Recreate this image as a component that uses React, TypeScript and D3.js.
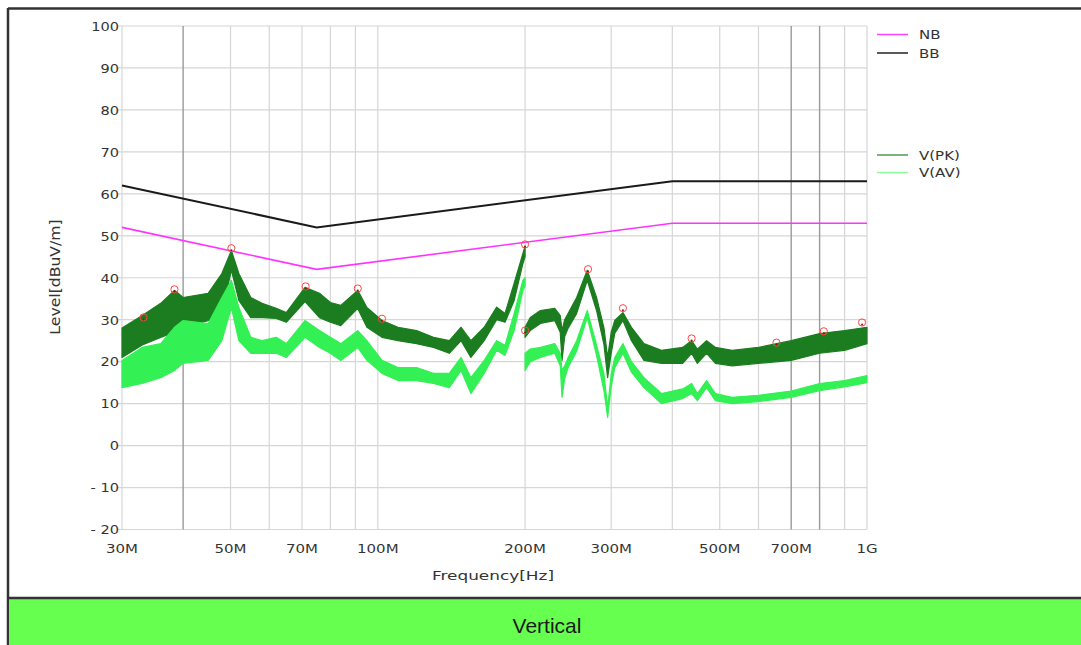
import React from "react";
import * as d3 from "d3";

// ---------- axis data ----------
const xTickValues = [30, 50, 70, 100, 200, 300, 500, 700, 1000];
const xTickLabels = ["30M", "50M", "70M", "100M", "200M", "300M", "500M", "700M", "1G"];
const gridFreqs = [40, 50, 60, 70, 80, 90, 100, 200, 300, 400, 500, 600, 700, 800, 900];
const strongGridFreqs = [40, 700, 800];
const yTickValues = [100, 90, 80, 70, 60, 50, 40, 30, 20, 10, 0, -10, -20];
const yTickLabels = ["100", "90", "80", "70", "60", "50", "40", "30", "20", "10", "0", "- 10", "- 20"];

// ---------- limit lines (MHz, dBuV/m) ----------
const limitFreq = [30, 75, 400, 1000];
const nbLimit = [52, 42, 53, 53];
const bbLimit = [62, 52, 63, 63];

// ---------- measured traces, segment 1 (30M - 200M) ----------
const seg1Freq = [30, 33, 36, 38.4, 40, 45, 48, 50.2, 52, 55, 58, 62, 65, 71, 76, 80, 84, 91, 95, 102, 110, 120, 130, 140, 148, 155, 165, 175, 182, 190, 198, 200];
const pkHi1 = [28, 31, 33.9, 37, 35.3, 36.3, 41, 46.5, 41, 35.3, 33.9, 32.7, 31.7, 37.7, 36.3, 34.1, 33.4, 37, 32.9, 29.8, 28.2, 27.4, 25.8, 25, 28.2, 25, 28.2, 33, 31.5, 38.7, 45.8, 47.5];
const pkLo1 = [21, 24, 25.8, 27, 28.2, 29.8, 31.5, 41.8, 34.6, 30.5, 30.5, 30.3, 29.4, 34.3, 30.5, 29.4, 28.6, 32.7, 28.2, 25.8, 25, 24.3, 23.4, 22, 25, 21, 25, 30, 29.4, 34.6, 43.4, 45];
const avHi1 = [20.3, 23.4, 24.3, 28.2, 29.8, 29.1, 35.3, 39.4, 32.9, 25.8, 25, 25.8, 24.3, 29.8, 27.4, 25.8, 24.3, 27.4, 25, 20.3, 18.6, 18.6, 17.2, 17.2, 21, 16.2, 20.3, 25, 23.9, 31.5, 39.4, 40];
const avLo1 = [13.8, 14.8, 16.2, 17.9, 19.6, 20.3, 25, 32.9, 25, 22, 22, 22, 21, 25.8, 23.4, 22, 20.3, 23.4, 20.3, 17.2, 15.5, 15.5, 14.8, 13.8, 17.9, 12.4, 17.2, 22.7, 21.5, 27.4, 37, 38];

// ---------- measured traces, segment 2 (200M - 1G) ----------
const seg2Freq = [200, 205, 215, 230, 236, 238, 241, 245, 255, 268, 280, 290, 295, 300, 305, 317, 330, 350, 380, 420, 438, 450, 470, 490, 530, 600, 700, 800, 900, 1000];
const pkHi2 = [28.2, 30.5, 32.2, 32.7, 31, 27.4, 30, 31.5, 35.3, 41.8, 35.3, 28, 21, 27, 29.8, 31.7, 28.2, 24.3, 22.7, 23.4, 25, 23, 25, 23.4, 22.7, 23.4, 25, 26.7, 27.4, 28.2];
const pkLo2 = [25.8, 27.4, 29.1, 29.8, 27, 20.3, 26, 28, 31.5, 39.4, 32.2, 24, 16.2, 22, 26.7, 29.8, 25, 20.3, 19.6, 19.6, 22, 19.6, 22, 19.6, 19, 19.6, 20.3, 22, 22.7, 24.3];
const avHi2 = [22, 23, 23.4, 24.3, 22, 18, 19, 21, 25, 32.2, 24, 17, 9, 17, 21, 24.3, 20, 16.2, 12.4, 13.5, 14.8, 12.4, 15.5, 12.4, 11.5, 12, 13, 14.8, 15.5, 16.7];
const avLo2 = [17.9, 20, 21, 22, 19, 11.5, 16, 18.6, 22.5, 30.5, 21.5, 13, 6.7, 14, 18.5, 22, 17.5, 13.8, 10, 11.2, 12.4, 10.7, 13.8, 10.7, 10, 10.5, 11.5, 13.1, 14, 15];

// ---------- peak markers ----------
const peakFreq = [33.2, 38.4, 50.2, 71.2, 91, 102, 200, 200, 269, 317, 438, 653, 816, 977];
const peakLevel = [30.3, 37, 46.8, 37.7, 37.2, 30, 47.7, 27.2, 41.8, 32.5, 25.3, 24.3, 27, 29.1];

// ---------- legend ----------
const legendLabels = ["NB", "BB", "V(PK)", "V(AV)"];
const legendColors = ["#ff40ff", "#222222", "#4f9a4f", "#8cff9c"];

const PK_COLOR = "#1b7d1f";
const AV_COLOR = "#33f055";
const FONT = "'DejaVu Sans', Verdana, sans-serif";

function Txt(props: {
  x: number; y: number; anchor?: string; size?: number; sx?: number; fill?: string; children: React.ReactNode; rotate?: number;
}) {
  const { x, y, anchor = "start", size = 13, sx = 1.15, fill = "#333", rotate = 0 } = props;
  return (
    <text
      transform={`translate(${x},${y}) rotate(${rotate}) scale(${sx},1)`}
      textAnchor={anchor as any}
      fontSize={size}
      fontFamily={FONT}
      fill={fill}
    >
      {props.children}
    </text>
  );
}

export default function App() {
  const W = 1081;
  const H = 645;
  const x = d3.scaleLog().domain([30, 1000]).range([122, 867]);
  const y = d3.scaleLinear().domain([-20, 100]).range([529.5, 26]);

  const band = (freq: number[], hi: number[], lo: number[]) =>
    d3
      .area<number>()
      .x((_, i) => x(freq[i]))
      .y0((_, i) => y(lo[i]))
      .y1((_, i) => y(hi[i]))(freq.map((_, i) => i)) || "";

  const limitPath = (lv: number[]) =>
    d3
      .line<number>()
      .x((_, i) => x(limitFreq[i]))
      .y((_, i) => y(lv[i]))(limitFreq.map((_, i) => i)) || "";

  const legendY = [34.5, 53, 155, 172.5];

  return (
    <svg
      width={W}
      height={H}
      style={{ position: "absolute", left: 0, top: 0, background: "#fff" }}
    >
      {/* outer frame */}
      <rect x={0} y={0} width={W} height={H} fill="#ffffff" />
      <line x1={8} y1={8.5} x2={W} y2={8.5} stroke="#333" strokeWidth={2.5} />
      <line x1={8} y1={8} x2={8} y2={H} stroke="#333" strokeWidth={2.5} />
      <rect x={9} y={598} width={W - 9} height={H - 598} fill="#66ff50" />
      <line x1={8} y1={598} x2={W} y2={598} stroke="#333" strokeWidth={2.5} />
      <text x={547} y={633} textAnchor="middle" fontSize={21} fontFamily="'Liberation Sans', Arial, sans-serif" fill="#1a1a1a">
        Vertical
      </text>

      {/* grid */}
      {yTickValues.map((v) => (
        <line key={"h" + v} x1={118} x2={867} y1={y(v)} y2={y(v)} stroke="#d6d6d6" strokeWidth={1.2} />
      ))}
      <line x1={x(30)} x2={x(30)} y1={y(100)} y2={y(-20)} stroke="#d6d6d6" strokeWidth={1.2} />
      <line x1={x(1000)} x2={x(1000)} y1={y(100)} y2={y(-20)} stroke="#d6d6d6" strokeWidth={1.2} />
      {gridFreqs.map((f) => (
        <line
          key={"v" + f}
          x1={x(f)}
          x2={x(f)}
          y1={y(100)}
          y2={y(-20)}
          stroke={strongGridFreqs.includes(f) ? "#9a9a9a" : "#d6d6d6"}
          strokeWidth={strongGridFreqs.includes(f) ? 1.4 : 1.2}
        />
      ))}

      {/* y tick labels */}
      {yTickValues.map((v, i) => (
        <Txt key={"yl" + v} x={119} y={y(v) + 4.8} anchor="end" size={13} sx={1.12}>
          {yTickLabels[i]}
        </Txt>
      ))}
      {/* x tick labels */}
      {xTickValues.map((f, i) => (
        <Txt key={"xl" + f} x={x(f)} y={553} anchor="middle" size={12.5} sx={1.2}>
          {xTickLabels[i]}
        </Txt>
      ))}
      <Txt x={493} y={579.5} anchor="middle" size={13} sx={1.3}>
        Frequency[Hz]
      </Txt>
      <Txt x={60} y={277} anchor="middle" size={14.5} sx={1.08} rotate={-90}>
        Level[dBuV/m]
      </Txt>

      {/* traces */}
      <path d={band(seg1Freq, pkHi1, pkLo1)} fill={PK_COLOR} stroke={PK_COLOR} strokeWidth={1.2} strokeLinejoin="round" />
      <path d={band(seg2Freq, pkHi2, pkLo2)} fill={PK_COLOR} stroke={PK_COLOR} strokeWidth={1.2} strokeLinejoin="round" />
      <path d={band(seg1Freq, avHi1, avLo1)} fill={AV_COLOR} stroke={AV_COLOR} strokeWidth={1.2} strokeLinejoin="round" />
      <path d={band(seg2Freq, avHi2, avLo2)} fill={AV_COLOR} stroke={AV_COLOR} strokeWidth={1.2} strokeLinejoin="round" />

      {/* limit lines */}
      <path d={limitPath(nbLimit)} fill="none" stroke="#ff33ff" strokeWidth={1.6} />
      <path d={limitPath(bbLimit)} fill="none" stroke="#1a1a1a" strokeWidth={2} />

      {/* peak markers */}
      {peakFreq.map((f, i) => (
        <g key={"pk" + i}>
          <circle cx={x(f)} cy={y(peakLevel[i]) - 1} r={3.6} fill="none" stroke="#ff4444" strokeWidth={1} />
          <circle cx={x(f)} cy={y(peakLevel[i]) + 1} r={1} fill="#a01010" />
        </g>
      ))}

      {/* legend */}
      {legendLabels.map((lab, i) => (
        <g key={"lg" + i}>
          <line x1={877} x2={908} y1={legendY[i]} y2={legendY[i]} stroke={legendColors[i]} strokeWidth={1.5} />
          <Txt x={919} y={legendY[i] + 4.5} size={12.5} sx={1.2}>
            {lab}
          </Txt>
        </g>
      ))}
    </svg>
  );
}
